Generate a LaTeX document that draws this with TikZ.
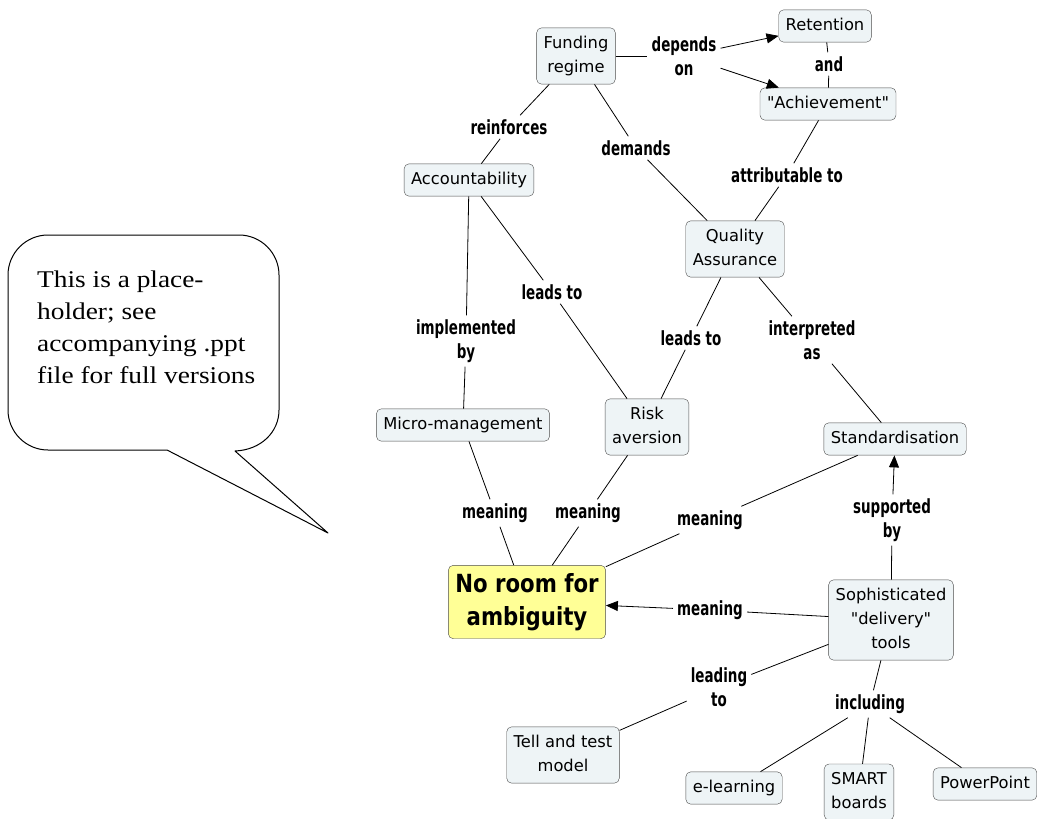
\documentclass[tikz,border=0pt]{standalone}
\usepackage{fontspec}
\setmainfont{DejaVu Sans}[Ligatures=TeXOff]
\newfontfamily\lblfont{DejaVu Sans}[FakeStretch=0.69]
\newfontfamily\centerfont{DejaVu Sans}[FakeStretch=0.85]
\newfontfamily\calloutfont{Liberation Serif}[FakeStretch=1.14]
\usetikzlibrary{arrows.meta}
\definecolor{nodefill}{RGB}{238,244,246}
\definecolor{yellowfill}{RGB}{255,255,150}
\newcommand{\mystrut}{\rule[-4pt]{0pt}{16pt}}
\tikzset{
  concept/.style={draw=black!70, fill=nodefill, rounded corners=5pt, inner xsep=7pt, inner ysep=8pt,
    align=center, font=\fontsize{16.3}{24}\selectfont,
    execute at begin node=\mystrut, execute at end node=\mystrut},
  lbl/.style={inner sep=4pt, align=center, font=\lblfont\bfseries\fontsize{19.5}{24}\selectfont},
  conn/.style={draw=black, line width=0.8pt},
  arr/.style={conn, -{Triangle[length=12pt,width=10pt]}},
}
\begin{document}
\begin{tikzpicture}[x=1pt,y=-1pt]
\useasboundingbox (0,0) rectangle (1037,819);
% callout
\draw[line width=1pt, line join=round]
  (167,450) -- (48,450) .. controls (26,450) and (8,432) .. (8,410)
  -- (8,275) .. controls (8,253) and (26,235) .. (48,235)
  -- (239,235) .. controls (261,235) and (279,253) .. (279,275)
  -- (279,410) .. controls (279,432) and (261,450) .. (235,451)
  -- (328,533) -- cycle;
\node[anchor=north west, inner sep=0pt, align=left, font=\calloutfont\fontsize{24}{32}\selectfont]
  (callout) at (37,271) {This is a place-\\holder; see\\accompanying .ppt\\file for full versions};
% concepts
\node[concept] (fund) at (576,56) {Funding\\regime};
\node[concept] (ret) at (825,26) {Retention};
\node[concept] (ach) at (828,104) {"Achievement"};
\node[concept] (acc) at (469,180) {Accountability};
\node[concept] (qa) at (735,249) {Quality\\Assurance};
\node[concept] (micro) at (463,425) {Micro-management};
\node[concept] (risk) at (647,427) {Risk\\aversion};
\node[concept] (std) at (895,439) {Standardisation};
\node[draw=black!70, fill=yellowfill, rounded corners=5pt, inner xsep=7pt, inner ysep=8pt, align=center,
  font=\centerfont\bfseries\fontsize{25}{33}\selectfont] (amb) at (527,602) {No room for\\ambiguity};
\node[concept] (soph) at (891,620) {Sophisticated\\"delivery"\\tools};
\node[concept] (tell) at (563,755) {Tell and test\\model};
\node[concept] (elearn) at (734,788) {e-learning};
\node[concept] (smart) at (859,792) {SMART\\boards};
\node[concept] (ppt) at (985,784) {PowerPoint};
% labels
\node[lbl] (dep) at (684,56) {depends\\on};
\node[lbl] (and) at (829,64) {and};
\node[lbl] (reinf) at (509,127) {reinforces};
\node[lbl] (dem) at (636,148) {demands};
\node[lbl] (attr) at (787,175) {attributable to};
\node[lbl] (lead1) at (552,292) {leads to};
\node[lbl] (impl) at (466,341) {implemented\\by};
\node[lbl] (lead2) at (691,338) {leads to};
\node[lbl] (interp) at (812,340) {interpreted\\as};
\node[lbl] (mean1) at (495,513) {meaning};
\node[lbl] (mean2) at (588,513) {meaning};
\node[lbl] (mean3) at (710,520) {meaning};
\node[lbl] (supp) at (892,520) {supported\\by};
\node[lbl] (mean4) at (710,610) {meaning};
\node[lbl] (leading) at (719,687) {leading\\to};
\node[lbl] (incl) at (870,704) {including};
% connectors
\draw[conn] (fund) -- (dep);
\draw[arr] (dep) -- (ret);
\draw[arr] (dep) -- (ach);
\draw[conn] (ret) -- (and) -- (ach);
\draw[conn] (fund) -- (reinf) -- (acc);
\draw[conn] (fund) -- (dem) -- (qa);
\draw[conn] (ach) -- (attr) -- (qa);
\draw[conn] (acc) -- (lead1) -- (risk);
\draw[conn] (acc) -- (impl) -- (micro);
\draw[conn] (qa) -- (lead2) -- (risk);
\draw[conn] (qa) -- (interp) -- (std);
\draw[conn] (micro) -- (mean1) -- (amb);
\draw[conn] (risk) -- (mean2) -- (amb);
\draw[conn] (std) -- (mean3) -- (amb);
\draw[conn] (soph) -- (supp);
\draw[arr] (supp) -- (std);
\draw[conn] (soph) -- (mean4);
\draw[arr] (mean4) -- (amb);
\draw[conn] (soph) -- (leading) -- (tell);
\draw[conn] (soph) -- (incl);
\draw[conn] (incl) -- (elearn);
\draw[conn] (incl) -- (smart);
\draw[conn] (incl) -- (ppt);
\end{tikzpicture}
\end{document}
